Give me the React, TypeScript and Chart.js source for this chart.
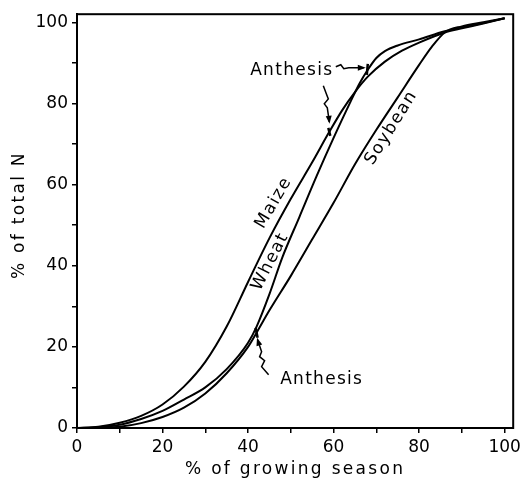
import { useEffect, useRef } from 'react';
import { Chart, registerables } from 'chart.js';

Chart.register(...registerables);

// % of growing season (x) and % of total N (y) for each crop
const maizeX = [0, 5, 10, 15, 20, 25, 30, 35, 40, 45, 50, 55, 59, 62, 65, 68, 72, 76, 80, 86, 90, 95, 100];
const maizeY = [0, 0.3, 1.3, 3, 5.8, 10.2, 16.3, 25, 36, 46.8, 56.5, 65.5, 73, 78.3, 82.8, 86.6, 90.3, 93, 95, 97.5, 98.5, 99.7, 101];

const wheatX = [0, 5, 10, 15, 20, 25, 30, 35, 40, 42, 45, 48, 52, 56, 60, 64, 66, 68, 70, 72, 75, 80, 86, 90, 95, 100];
const wheatY = [0, 0.2, 0.8, 2.2, 4.2, 7, 10, 14.5, 21, 25, 33, 42, 52, 62, 71.5, 80.5, 84.8, 88.3, 91.2, 92.9, 94.3, 95.8, 97.8, 98.7, 99.8, 101];

const soyX = [0, 5, 10, 15, 20, 25, 30, 35, 40, 42, 45, 50, 55, 60, 65, 70, 75, 80, 83, 86, 90, 95, 100];
const soyY = [0, 0.05, 0.3, 1.2, 2.7, 5, 8.5, 13.5, 20, 23.5, 29, 37.5, 46.5, 55.5, 65, 73.5, 81.5, 89.5, 94, 97.5, 99, 100, 101];

const axisMax = 102;
const tickStep = 10;
const labelStep = 20;

const xTitle = '% of growing season';
const yTitle = '% of total N';

// curve labels: text, data x, data y (centre), rotation in degrees
const curveLabels = ['Maize', 'Wheat', 'Soybean'];
const curveLabelX = [46, 45.2, 73.5];
const curveLabelY = [55.5, 41, 74];
const curveLabelAngle = [-60, -63, -58];

// anthesis points (maize, wheat, soybean)
const anthesisX = [59, 68, 42];
const anthesisY = [73, 88.3, 23.5];
const anthesisText = 'Anthesis';
const anthesisTextX = [40.5, 47.5];
const anthesisTextY = [87, 10.9];

const FONT = '"DejaVu Sans", sans-serif';

function makeSeries(xs: number[], ys: number[], label: string) {
  return {
    label,
    data: xs.map((x, i) => ({ x, y: ys[i] })),
    showLine: true,
    borderColor: '#000',
    borderWidth: 2,
    pointRadius: 0,
    cubicInterpolationMode: 'monotone' as const,
    fill: false,
  };
}

function drawSpaced(ctx: CanvasRenderingContext2D, text: string, x: number, y: number, align: CanvasTextAlign, spacing: number) {
  (ctx as any).letterSpacing = spacing + 'px';
  ctx.textAlign = align;
  ctx.fillText(text, x, y);
  (ctx as any).letterSpacing = '0px';
}

function arrow(ctx: CanvasRenderingContext2D, px: number, py: number, pts: number[][], headDir: number[]) {
  ctx.beginPath();
  ctx.moveTo(px + pts[0][0], py + pts[0][1]);
  for (let i = 1; i < pts.length; i++) ctx.lineTo(px + pts[i][0], py + pts[i][1]);
  ctx.stroke();
  const tx = px + pts[pts.length - 1][0];
  const ty = py + pts[pts.length - 1][1];
  const [dx, dy] = headDir;
  const len = Math.hypot(dx, dy);
  const ux = dx / len, uy = dy / len;
  const hl = 6, hw = 3;
  ctx.beginPath();
  ctx.moveTo(tx + ux * 2, ty + uy * 2);
  ctx.lineTo(tx - ux * hl - uy * hw, ty - uy * hl + ux * hw);
  ctx.lineTo(tx - ux * hl + uy * hw, ty - uy * hl - ux * hw);
  ctx.closePath();
  ctx.fill();
}

const framePlugin = {
  id: 'frame',
  afterDraw(chart: any) {
    const { ctx, chartArea: a, scales } = chart;
    const xs = scales.x, ys = scales.y;
    ctx.save();
    ctx.strokeStyle = '#000';
    ctx.fillStyle = '#000';
    ctx.lineWidth = 2;
    ctx.strokeRect(a.left, a.top, a.right - a.left, a.bottom - a.top);

    // axis titles
    ctx.font = `17px ${FONT}`;
    ctx.textBaseline = 'alphabetic';
    drawSpaced(ctx, xTitle, (a.left + a.right) / 2, 474, 'center', 2.3);
    ctx.save();
    ctx.translate(24, (a.top + a.bottom) / 2 - 6);
    ctx.rotate(-Math.PI / 2);
    drawSpaced(ctx, yTitle, 0, 0, 'center', 2.3);
    ctx.restore();

    // curve labels
    ctx.font = `17px ${FONT}`;
    ctx.textBaseline = 'middle';
    curveLabels.forEach((t, i) => {
      ctx.save();
      ctx.translate(xs.getPixelForValue(curveLabelX[i]), ys.getPixelForValue(curveLabelY[i]));
      ctx.rotate((curveLabelAngle[i] * Math.PI) / 180);
      drawSpaced(ctx, t, 0, 0, 'center', 1.5);
      ctx.restore();
    });

    // anthesis texts
    ctx.textBaseline = 'alphabetic';
    anthesisTextX.forEach((x, i) => {
      drawSpaced(ctx, anthesisText, xs.getPixelForValue(x), ys.getPixelForValue(anthesisTextY[i]), 'left', 1.3);
    });

    const pm = [xs.getPixelForValue(anthesisX[0]), ys.getPixelForValue(anthesisY[0])];
    const pw = [xs.getPixelForValue(anthesisX[1]), ys.getPixelForValue(anthesisY[1])];
    const psb = [xs.getPixelForValue(anthesisX[2]), ys.getPixelForValue(anthesisY[2])];

    // small marks on curves
    ctx.lineWidth = 2.5;
    ctx.beginPath();
    ctx.moveTo(pm[0] - 1, pm[1] - 4); ctx.lineTo(pm[0] + 1, pm[1] + 4);
    ctx.moveTo(pw[0], pw[1] - 6); ctx.lineTo(pw[0] - 1, pw[1] + 5);
    ctx.moveTo(psb[0] - 1, psb[1] - 5); ctx.lineTo(psb[0] + 1, psb[1] + 5);
    ctx.stroke();

    ctx.lineWidth = 1.5;
    arrow(ctx, pm[0], pm[1], [[-6, -46], [-3, -38], [-1, -33], [-5, -28], [-2, -24], [0, -10]], [0.1, 1]);
    arrow(ctx, pw[0], pw[1], [[-32, -3], [-27, -5], [-24, -1], [-19, -2], [-4, -2]], [1, 0]);
    arrow(ctx, psb[0], psb[1], [[12, 42], [5, 34], [8, 28], [3, 24], [5, 19], [1, 7]], [-0.3, -1]);
    ctx.restore();
  },
};

export default function App() {
  const ref = useRef<HTMLCanvasElement>(null);
  useEffect(() => {
    document.body.style.margin = '0';
    const tickFont = { family: FONT, size: 17 };
    const chart = new Chart(ref.current!, {
      type: 'scatter',
      data: {
        datasets: [
          makeSeries(maizeX, maizeY, 'Maize'),
          makeSeries(wheatX, wheatY, 'Wheat'),
          makeSeries(soyX, soyY, 'Soybean'),
        ],
      },
      options: {
        responsive: false,
        animation: false,
        events: [],
        layout: { padding: { top: 14, right: 7, left: 0, bottom: 0 }, autoPadding: false } as any,
        plugins: { legend: { display: false }, tooltip: { enabled: false } },
        scales: {
          x: {
            type: 'linear',
            min: 0,
            max: axisMax,
            ticks: {
              stepSize: tickStep,
              includeBounds: false,
              autoSkip: false,
              maxRotation: 0,
              color: '#000',
              font: tickFont,
              padding: 4,
              callback: (v: any) => (v % labelStep === 0 ? String(v) : ''),
            },
            grid: { drawOnChartArea: false, tickLength: 5, color: '#000', lineWidth: 1.5 },
            border: { color: '#000', width: 2 },
            afterFit: (s: any) => { s.height = 59; },
          },
          y: {
            type: 'linear',
            min: 0,
            max: axisMax,
            ticks: {
              stepSize: tickStep,
              includeBounds: false,
              autoSkip: false,
              color: '#000',
              font: tickFont,
              padding: 4,
              callback: (v: any) => (v % labelStep === 0 ? String(v) : ''),
            },
            grid: { drawOnChartArea: false, tickLength: 5, color: '#000', lineWidth: 1.5 },
            border: { color: '#000', width: 2 },
            afterFit: (s: any) => { s.width = 77; },
          },
        },
      } as any,
      plugins: [framePlugin],
    });
    return () => chart.destroy();
  }, []);
  return (
    <div style={{ width: 525, height: 487, background: '#fff' }}>
      <canvas ref={ref} width={525} height={487} style={{ display: 'block' }} />
    </div>
  );
}
